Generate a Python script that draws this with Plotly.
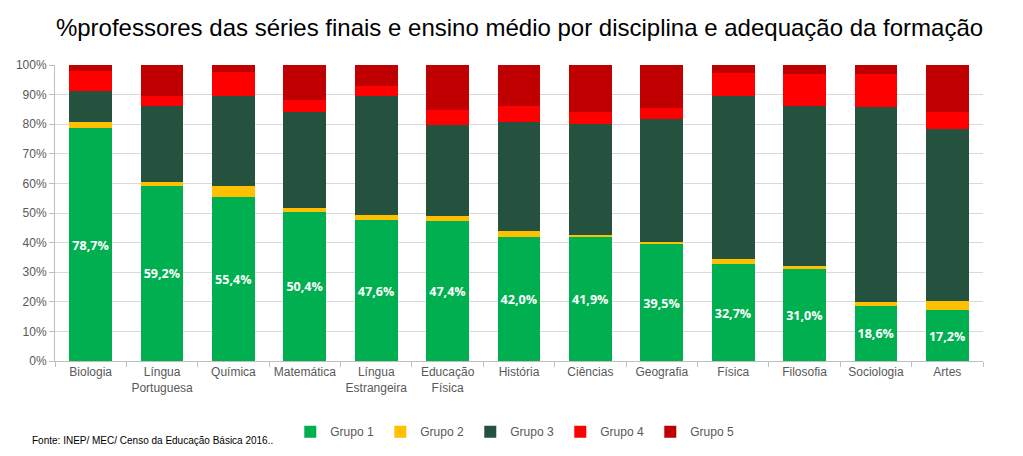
import plotly.graph_objects as go

categories = ["Biologia", "Língua<br>Portuguesa", "Química", "Matemática", "Língua<br>Estrangeira",
              "Educação<br>Física", "História", "Ciências", "Geografia", "Física", "Filosofia",
              "Sociologia", "Artes"]
grupo1 = [78.7, 59.2, 55.4, 50.4, 47.6, 47.4, 42.0, 41.9, 39.5, 32.7, 31.0, 18.6, 17.2]
grupo2 = [2.2, 1.3, 3.7, 1.2, 1.6, 1.6, 2.0, 0.7, 0.8, 1.8, 1.1, 1.3, 3.0]
grupo3 = [10.3, 25.8, 30.4, 32.4, 40.3, 30.7, 36.7, 37.6, 41.3, 55.1, 54.2, 66.0, 58.2]
grupo4 = [6.9, 3.2, 8.2, 4.1, 3.3, 5.2, 5.4, 3.8, 4.0, 7.8, 10.8, 11.2, 5.8]
grupo5 = [1.9, 10.5, 2.3, 11.9, 7.2, 15.1, 13.9, 16.0, 14.4, 2.6, 2.9, 2.9, 15.8]
series_names = ["Grupo 1", "Grupo 2", "Grupo 3", "Grupo 4", "Grupo 5"]
colors = ["#00B050", "#FFC000", "#25513F", "#FF0000", "#C00000"]

fig = go.Figure()
for i, (name, vals) in enumerate(zip(series_names, [grupo1, grupo2, grupo3, grupo4, grupo5])):
    kw = {}
    if i == 0:
        kw = dict(text=[f"{v:.1f}%".replace(".", ",") for v in vals],
                  textposition="inside", insidetextanchor="middle",
                  textfont=dict(family="Open Sans", size=15, color="white", weight="bold"),
                  textangle=0)
    fig.add_trace(go.Bar(x=categories, y=vals, name=name, marker=dict(color=colors[i], line=dict(width=0)),
                         hoverinfo="skip", **kw))

fig.update_layout(
    barmode="stack", bargap=0.4,
    width=1023, height=456,
    margin=dict(l=47, r=48, t=57, b=103, autoexpand=False),
    paper_bgcolor="white", plot_bgcolor="white",
    title=dict(text="%professores das séries finais e ensino médio por disciplina e adequação da formação",
               x=0.5, xanchor="center", y=0.958, yanchor="middle",
               font=dict(family="Liberation Sans, Arial", size=24, color="black")),
    font=dict(family="Liberation Sans, Arial", size=12, color="#595959"),
    legend=dict(orientation="h", x=0.496, xanchor="center", y=-0.19, yanchor="top",
                font=dict(size=12, color="#595959"), itemwidth=30, traceorder="normal",
                tracegroupgap=0, entrywidth=45, entrywidthmode="pixels"),
    uniformtext=dict(mode="show", minsize=10),
)
fig.update_xaxes(showline=True, linecolor="#BFBFBF", ticks="outside", tickson="boundaries",
                 ticklen=5, tickcolor="#BFBFBF", tickfont=dict(size=12, color="#595959"),
                 automargin=False)
fig.update_yaxes(range=[0, 100], dtick=10, ticksuffix="%", showgrid=True, gridcolor="#D9D9D9",
                 showline=True, linecolor="#BFBFBF", ticks="outside", ticklen=5, tickcolor="#BFBFBF",
                 tickfont=dict(size=12, color="#595959"), zeroline=False, automargin=False)

fig.add_annotation(text="Fonte: INEP/ MEC/ Censo da Educação Básica 2016..", xref="paper", yref="paper",
                   x=-0.027, y=-0.267, xanchor="left", yanchor="middle", showarrow=False,
                   font=dict(family="Liberation Sans, Arial", size=10, color="black"))

fig.write_html("out.html")
